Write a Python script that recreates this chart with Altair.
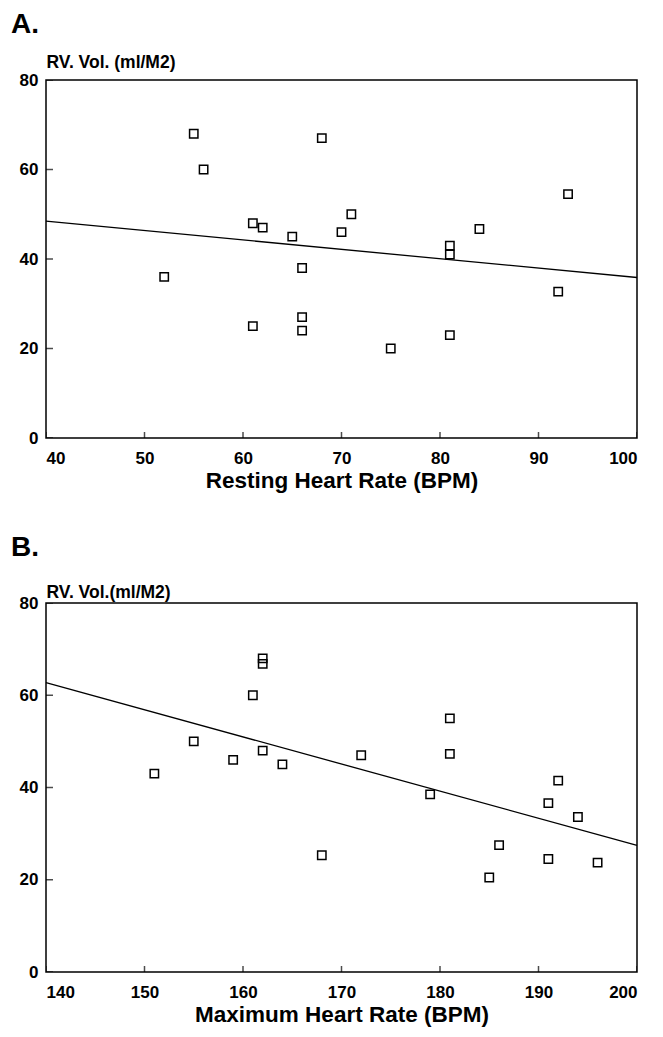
import altair as alt
import pandas as pd

# Panel A: resting heart rate vs RV volume
rest_hr = [55, 68, 56, 93, 71, 61, 62, 84, 70, 65, 81, 81, 66, 52, 92, 66, 61, 66, 81, 75]
rest_vol = [68, 67, 60, 54.5, 50, 48, 47, 46.7, 46, 45, 43, 41, 38, 36, 32.7, 27, 25, 24, 23, 20]

# Panel B: maximum heart rate vs RV volume
max_hr = [151, 155, 159, 161, 162, 162, 162, 164, 168, 172, 179, 181, 181, 185, 186, 191, 191, 192, 194, 196]
max_vol = [43, 50, 46, 60, 68, 66.8, 48, 45, 25.3, 47, 38.5, 55, 47.3, 20.5, 27.5, 36.6, 24.5, 41.5, 33.6, 23.7]

x_ticks_a = [40, 50, 60, 70, 80, 90, 100]
x_ticks_b = [140, 150, 160, 170, 180, 190, 200]
y_ticks = [0, 20, 40, 60, 80]

FONT = "Liberation Sans"


def panel(label, hr, vol, xticks, xtitle, ytitle, height, ytitle_y, title_offset):
    xdom = [xticks[0], xticks[-1]]
    df = pd.DataFrame({"hr": hr, "vol": vol})
    xs = alt.Scale(domain=xdom, nice=False, zero=False)
    ys = alt.Scale(domain=[0, 80], nice=False)
    xaxis = alt.Axis(values=xticks, ticks=False, tickSize=0, domain=False, grid=False,
                     labelFontSize=17, labelFontWeight="bold", labelFont=FONT, labelColor="black",
                     labelPadding=12, format="d",
                     title=xtitle, titleFontSize=22.5, titleFontWeight="bold", titleFont=FONT,
                     titleColor="black", titlePadding=3)
    yaxis = alt.Axis(values=y_ticks, ticks=False, tickSize=0, domain=False, grid=False,
                     labelFontSize=17, labelFontWeight="bold", labelFont=FONT, labelColor="black",
                     labelPadding=8, format="d",
                     title=ytitle, titleAngle=0, titleAlign="left", titleBaseline="alphabetic",
                     titleX=0, titleY=ytitle_y, titleFontSize=17.5, titleFontWeight="bold",
                     titleFont=FONT, titleColor="black")
    base = alt.Chart(df)
    pts = base.mark_square(filled=False, size=70, color="black", strokeWidth=1.5, opacity=1).encode(
        x=alt.X("hr:Q", scale=xs, axis=xaxis),
        y=alt.Y("vol:Q", scale=ys, axis=yaxis),
    )
    fit = base.transform_regression("hr", "vol", extent=xdom).mark_line(
        color="black", strokeWidth=1.3).encode(
        x=alt.X("hr:Q", scale=xs, axis=xaxis),
        y=alt.Y("vol:Q", scale=ys, axis=yaxis),
    )
    xt = alt.Chart(pd.DataFrame({"t": xticks})).mark_tick(
        orient="vertical", size=12, thickness=1.5, color="black", clip=True).encode(
        x=alt.X("t:Q", scale=xs, axis=xaxis),
        y=alt.Y(datum=0, scale=ys, axis=yaxis),
    )
    yt = alt.Chart(pd.DataFrame({"t": y_ticks})).mark_tick(
        orient="horizontal", size=14, thickness=1.5, color="black", clip=True).encode(
        y=alt.Y("t:Q", scale=ys, axis=yaxis),
        x=alt.X(datum=xdom[0], scale=xs, axis=xaxis),
    )
    return alt.layer(pts, fit, xt, yt).properties(
        width=591, height=height,
        title=alt.TitleParams(label, anchor="start", fontSize=28, font=FONT, fontWeight="bold",
                              color="black", dx=-8, offset=title_offset),
    )


a = panel("A.", rest_hr, rest_vol, x_ticks_a, "Resting Heart Rate (BPM)", "RV. Vol. (ml/M2)", 358, -13, 14)
b = panel("B.", max_hr, max_vol, x_ticks_b, "Maximum Heart Rate (BPM)", "RV. Vol.(ml/M2)", 369, -6, 21)

chart = alt.vconcat(a, b, spacing=40).configure_view(
    stroke="black", strokeWidth=1.5
).properties(
    padding={"left": 2, "top": 2, "right": 5, "bottom": 2}
)

chart.save("out.html", embed_options={"renderer": "svg", "actions": False})
